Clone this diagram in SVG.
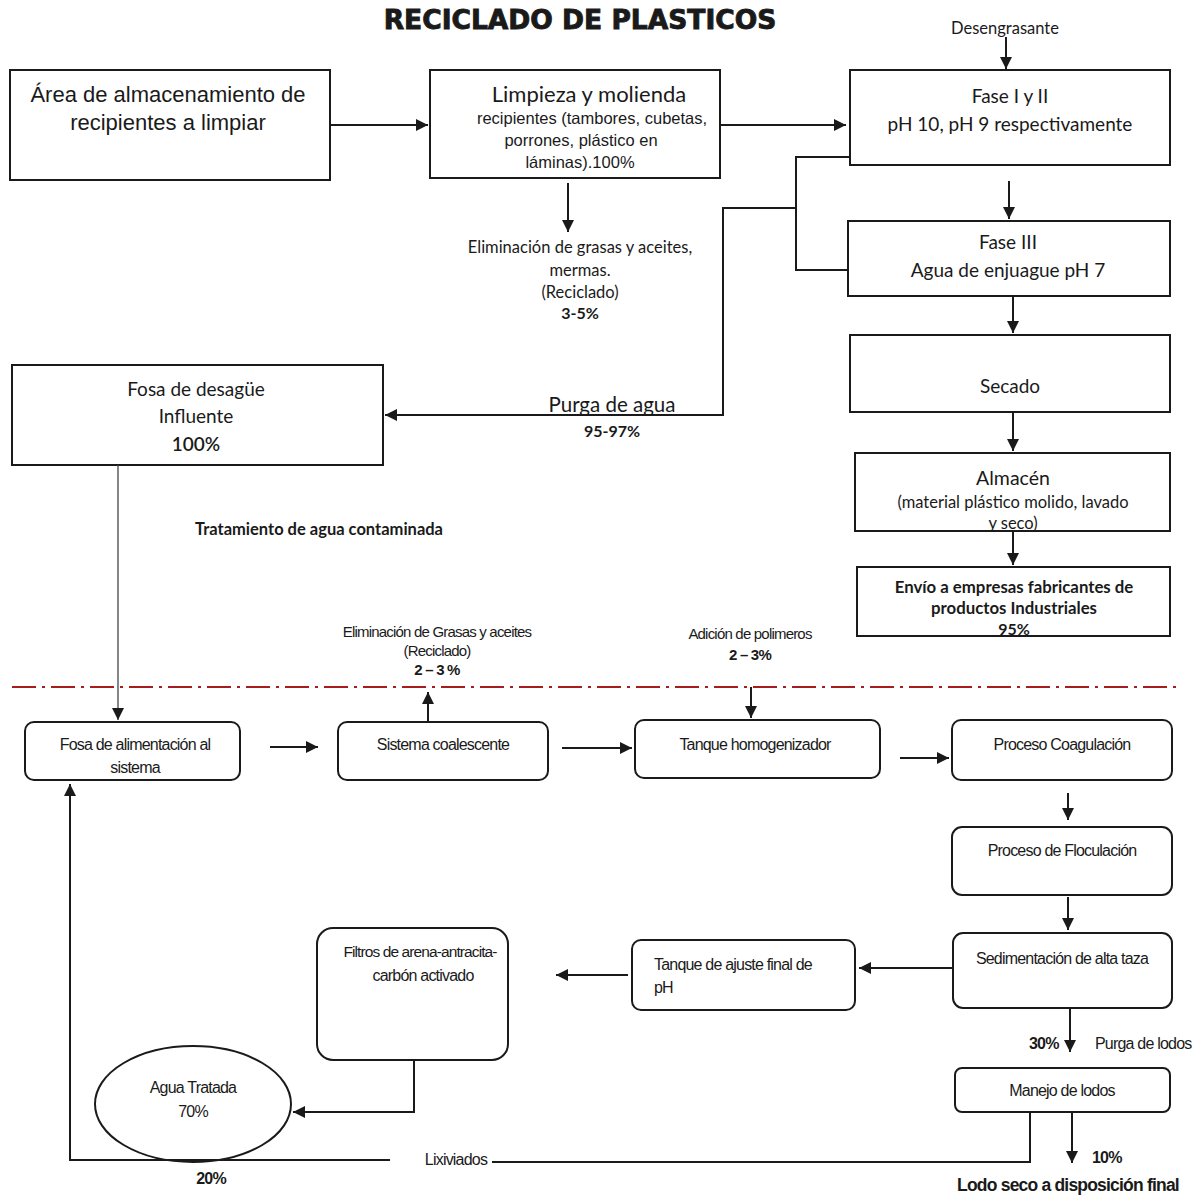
<svg xmlns="http://www.w3.org/2000/svg" width="1203" height="1195" viewBox="0 0 1203 1195">
  <style>
    .box { fill: #fff; stroke: #1a1a1a; stroke-width: 2; }
    .rbox { fill: #fff; stroke: #1a1a1a; stroke-width: 2; }
    .ln { fill: none; stroke: #1a1a1a; stroke-width: 2; }
    .thin { fill: none; stroke: #444; stroke-width: 1.3; }
    .ar { fill: none; stroke: #1a1a1a; stroke-width: 2; marker-end: url(#ah); }
    .arial { font-family: "Liberation Sans", Arial, sans-serif; fill: #1a1a1a; }
    .cal { font-family: Lato, "Open Sans", sans-serif; fill: #1a1a1a; }
    .nar { font-family: "Liberation Sans", Arial, sans-serif; fill: #1a1a1a; font-size: 16px; letter-spacing: -0.8px; }
    .sm { font-size: 15px; }
    .b { font-weight: bold; }
    .c { text-anchor: middle; }
    .title { font-family: "DejaVu Sans", "Liberation Sans", sans-serif; font-weight: bold; font-size: 26.5px; fill: #1a1a1a; stroke: #1a1a1a; stroke-width: 0.9; text-anchor: middle; }
  </style>
  <defs>
    <marker id="ah" viewBox="0 0 10 10" markerWidth="12" markerHeight="12" markerUnits="userSpaceOnUse" refX="10" refY="5" orient="auto">
      <path d="M0,0 L10,5 L0,10 z" fill="#1a1a1a"/>
    </marker>
  </defs>

  <rect width="1203" height="1195" fill="#fff"/>

  <text class="title" x="580" y="29">RECICLADO DE PLASTICOS</text>

  <!-- Upper section: plastic washing line -->
  <g id="almacenamiento">
    <rect class="box" x="10" y="70" width="320" height="110"/>
    <text class="arial c" x="168" y="102" font-size="22">Área de almacenamiento de</text>
    <text class="arial c" x="168" y="130" font-size="22">recipientes a limpiar</text>
  </g>

  <g id="limpieza">
    <rect class="box" x="430" y="70" width="290" height="108"/>
    <text class="cal c" x="589" y="102" font-size="22">Limpieza y molienda</text>
    <text class="arial c" x="592" y="124" font-size="16.5">recipientes (tambores, cubetas,</text>
    <text class="arial c" x="581" y="146" font-size="16.5">porrones, plástico en</text>
    <text class="arial c" x="580" y="168" font-size="16.5">láminas).100%</text>
  </g>

  <g id="fase12">
    <rect class="box" x="850" y="70" width="320" height="95"/>
    <text class="cal c" x="1010" y="103" font-size="19">Fase I y II</text>
    <text class="cal c" x="1010" y="131" font-size="19">pH 10, pH 9 respectivamente</text>
  </g>

  <g id="fase3">
    <rect class="box" x="848" y="221" width="322" height="75"/>
    <text class="cal c" x="1008" y="249" font-size="19">Fase III</text>
    <text class="cal c" x="1008" y="277" font-size="19">Agua de enjuague pH 7</text>
  </g>

  <g id="secado">
    <rect class="box" x="850" y="335" width="320" height="77"/>
    <text class="cal c" x="1010" y="393" font-size="19">Secado</text>
  </g>

  <g id="almacen">
    <rect class="box" x="855" y="453" width="315" height="78"/>
    <text class="cal c" x="1013" y="485" font-size="19.5">Almacén</text>
    <text class="cal c" x="1013" y="508" font-size="16.5">(material plástico molido, lavado</text>
    <text class="cal c" x="1013" y="529" font-size="16.5">y seco)</text>
  </g>

  <g id="envio">
    <rect class="box" x="857" y="567" width="313" height="69"/>
    <text class="cal b c" x="1014" y="593" font-size="16.8">Envío a empresas fabricantes  de</text>
    <text class="cal b c" x="1014" y="614" font-size="16.8">productos Industriales</text>
    <text class="cal b c" x="1014" y="635" font-size="16">95%</text>
  </g>

  <g id="fosa-desague">
    <rect class="box" x="12" y="365" width="371" height="100"/>
    <text class="cal c" x="196" y="396" font-size="19">Fosa de desagüe</text>
    <text class="cal c" x="196" y="423" font-size="19">Influente</text>
    <text class="cal c" x="196" y="451" font-size="19" font-weight="600">100%</text>
  </g>

  <!-- Upper labels -->
  <text class="cal c" x="1005" y="34" font-size="16.5">Desengrasante</text>
  <text class="cal c" x="580" y="253" font-size="16.5">Eliminación de grasas y aceites,</text>
  <text class="cal c" x="580" y="276" font-size="16.5">mermas.</text>
  <text class="cal c" x="580" y="298" font-size="16.5">(Reciclado)</text>
  <text class="cal b c" x="580" y="319" font-size="16">3-5%</text>
  <text class="cal c" x="612" y="412" font-size="20.5">Purga de agua</text>
  <text class="cal b c" x="612" y="437" font-size="16">95-97%</text>
  <text class="cal b" x="195" y="535" font-size="16.5">Tratamiento de agua contaminada</text>

  <!-- Lower section: wastewater treatment -->
  <g id="fosa-alimentacion">
    <rect class="rbox" x="25" y="722" width="215" height="58" rx="9"/>
    <text class="nar c" x="135" y="750">Fosa de alimentación al</text>
    <text class="nar c" x="135" y="773">sistema</text>
  </g>

  <g id="coalescente">
    <rect class="rbox" x="338" y="722" width="210" height="58" rx="9"/>
    <text class="nar c" x="443" y="750">Sistema coalescente</text>
  </g>

  <g id="homogenizador">
    <rect class="rbox" x="635" y="720" width="245" height="58" rx="9"/>
    <text class="nar c" x="755" y="750">Tanque homogenizador</text>
  </g>

  <g id="coagulacion">
    <rect class="rbox" x="952" y="720" width="220" height="60" rx="9"/>
    <text class="nar c" x="1062" y="750">Proceso Coagulación</text>
  </g>

  <g id="floculacion">
    <rect class="rbox" x="952" y="827" width="220" height="68" rx="10"/>
    <text class="nar c" x="1062" y="856">Proceso de Floculación</text>
  </g>

  <g id="sedimentacion">
    <rect class="rbox" x="953" y="933" width="219" height="75" rx="10"/>
    <text class="nar c" x="1062" y="964">Sedimentación de alta taza</text>
  </g>

  <g id="ajuste-ph">
    <rect class="rbox" x="632" y="940" width="223" height="70" rx="9"/>
    <text class="nar" x="654" y="970">Tanque de ajuste final de</text>
    <text class="nar" x="654" y="993">pH</text>
  </g>

  <g id="filtros">
    <rect class="rbox" x="317" y="928" width="191" height="132" rx="16"/>
    <text class="nar c" x="420" y="957" style="font-size:15.5px; letter-spacing:-0.9px">Filtros de arena-antracita-</text>
    <text class="nar c" x="423" y="981">carbón activado</text>
  </g>

  <g id="agua-tratada">
    <ellipse cx="193" cy="1104" rx="98" ry="58" fill="#fff" stroke="#1a1a1a" stroke-width="2"/>
    <text class="nar c" x="193" y="1093">Agua Tratada</text>
    <text class="nar c" x="193" y="1117">70%</text>
  </g>

  <g id="manejo-lodos">
    <rect class="rbox" x="955" y="1068" width="215" height="44" rx="7"/>
    <text class="nar c" x="1062" y="1096">Manejo de lodos</text>
  </g>

  <!-- Lower labels -->
  <text class="nar sm c" x="437" y="637">Eliminación de Grasas y aceites</text>
  <text class="nar sm c" x="437" y="656">(Reciclado)</text>
  <text class="nar sm b c" x="437" y="675">2 – 3 %</text>
  <text class="nar sm c" x="750" y="639">Adición de polimeros</text>
  <text class="nar sm b c" x="750" y="660">2 – 3%</text>
  <text class="nar b" x="1029" y="1049">30%</text>
  <text class="nar" x="1095" y="1049">Purga de lodos</text>
  <text class="nar b" x="1092" y="1163">10%</text>
  <text class="nar b c" x="1068" y="1191" style="font-size:17.5px">Lodo seco a disposición final</text>
  <text class="nar c" x="456" y="1165">Lixiviados</text>
  <text class="nar b c" x="211" y="1184">20%</text>

  <!-- Divider between sections -->
  <line x1="12" y1="687" x2="1176" y2="687" stroke="#a81c1c" stroke-width="2" stroke-dasharray="24 6 3 6"/>

  <g id="connectors">
    <!-- upper flow -->
    <line class="ar" x1="330" y1="125" x2="428" y2="125"/>
    <line class="ar" x1="720" y1="125" x2="846" y2="125"/>
    <line class="ar" x1="1006" y1="37" x2="1006" y2="69"/>
    <line class="ar" x1="1009" y1="181" x2="1009" y2="219"/>
    <line class="ar" x1="1013" y1="296" x2="1013" y2="333"/>
    <line class="ar" x1="1013" y1="412" x2="1013" y2="451"/>
    <line class="ar" x1="1013" y1="531" x2="1013" y2="565"/>
    <line class="ar" x1="568" y1="183" x2="568" y2="232"/>
    <!-- water purge from washing phases -->
    <polyline class="ln" points="850,157 796,157 796,270 848,270"/>
    <polyline class="ln" points="796,208 723,208 723,415 385,415" marker-end="url(#ah)"/>
    <!-- influent to feed pit -->
    <line class="thin" x1="118" y1="465" x2="118" y2="720" marker-end="url(#ah)"/>
    <!-- lower flow -->
    <line class="ar" x1="270" y1="747" x2="318" y2="747"/>
    <line class="ar" x1="428" y1="722" x2="428" y2="692"/>
    <line class="ar" x1="562" y1="748" x2="632" y2="748"/>
    <line class="ar" x1="751" y1="687" x2="751" y2="718"/>
    <line class="ar" x1="900" y1="758" x2="949" y2="758"/>
    <line class="ar" x1="1068" y1="793" x2="1068" y2="820"/>
    <line class="ar" x1="1068" y1="897" x2="1068" y2="930"/>
    <line class="ar" x1="953" y1="968" x2="859" y2="968"/>
    <line class="ar" x1="628" y1="975" x2="556" y2="975"/>
    <polyline class="ln" points="414,1060 414,1112 293,1112" marker-end="url(#ah)"/>
    <line class="ar" x1="1070" y1="1008" x2="1070" y2="1052"/>
    <line class="ar" x1="1072" y1="1112" x2="1072" y2="1163"/>
    <!-- leachate return -->
    <polyline class="ln" points="1030,1112 1030,1162 492,1162"/>
    <polyline class="ln" points="390,1160 70,1160 70,784" marker-end="url(#ah)"/>
  </g>
</svg>
